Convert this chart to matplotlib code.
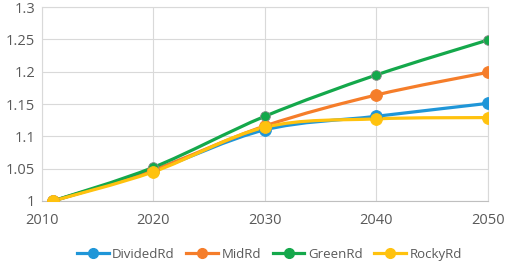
import numpy as np
import matplotlib
matplotlib.use("Agg")
import matplotlib.pyplot as plt
from matplotlib.path import Path
from matplotlib.patches import PathPatch

# data
years = [2011, 2020, 2030, 2040, 2050]
divided = [1.0, 1.047, 1.110, 1.131, 1.151]
mid = [1.0, 1.048, 1.116, 1.164, 1.199]
green = [1.0, 1.052, 1.131, 1.195, 1.249]
rocky = [1.0, 1.045, 1.114, 1.127, 1.129]
names = ["DividedRd", "MidRd", "GreenRd", "RockyRd"]
colors = ["#1f96d8", "#f57d2a", "#14a84b", "#ffc20e"]
msizes = [8.5, 8.5, 7, 8.5]

plt.rcParams['font.family'] = ['Open Sans', 'DejaVu Sans']


def smoothPath(x, y):
    # catmull-rom style bezier through the points (like excel smoothed line)
    x = np.asarray(x, float)
    y = np.asarray(y, float)
    verts = [(x[0], y[0])]
    codes = [Path.MOVETO]
    n = len(x)
    for i in range(n - 1):
        i0 = max(i - 1, 0)
        i3 = min(i + 2, n - 1)
        c1 = (x[i] + (x[i + 1] - x[i0]) / 6.0, y[i] + (y[i + 1] - y[i0]) / 6.0)
        c2 = (x[i + 1] - (x[i3] - x[i]) / 6.0, y[i + 1] - (y[i3] - y[i]) / 6.0)
        verts += [c1, c2, (x[i + 1], y[i + 1])]
        codes += [Path.CURVE4] * 3
    return Path(verts, codes)


fig = plt.figure(figsize=(5.05, 2.64), dpi=100)
ax = fig.add_axes([0.083, 0.239, 0.883, 0.734])

series = [divided, mid, green, rocky]
for vals, name, c, ms in zip(series, names, colors, msizes):
    ax.add_patch(PathPatch(smoothPath(years, vals), fill=False, edgecolor=c,
                           linewidth=2.3, capstyle='round', zorder=3))
    ec = "#8a8a8a" if name == "GreenRd" else c
    ax.plot(years, vals, linestyle='none', marker='o', markersize=ms,
            markerfacecolor=c, markeredgecolor=ec, markeredgewidth=0.6, zorder=4)
    # legend proxy
    ax.plot([], [], color=c, linewidth=2.3, marker='o', markersize=7, label=name)

ax.set_xlim(2010, 2050)
ax.set_ylim(1.0, 1.3)
ax.set_xticks([2010, 2020, 2030, 2040, 2050])
ax.set_yticks([1.0, 1.05, 1.1, 1.15, 1.2, 1.25, 1.3])
ax.set_yticklabels(["1", "1.05", "1.1", "1.15", "1.2", "1.25", "1.3"])
ax.grid(True, color="#d9d9d9", linewidth=0.8)
ax.set_axisbelow(True)
for s in ["top", "right", "left"]:
    ax.spines[s].set_color("#d9d9d9")
ax.spines["bottom"].set_color("#bfbfbf")
ax.tick_params(length=0, labelsize=10.5, labelcolor="#595959")
ax.tick_params(axis='x', pad=9)
ax.tick_params(axis='y', pad=5)

ax.legend(loc='center', bbox_to_anchor=(0.51, -0.275), ncol=4, frameon=False,
          fontsize=9.5, labelcolor="#595959", handlelength=2.4, columnspacing=0.9,
          handletextpad=0.25, borderpad=0)

fig.savefig("out.png", dpi=100)
